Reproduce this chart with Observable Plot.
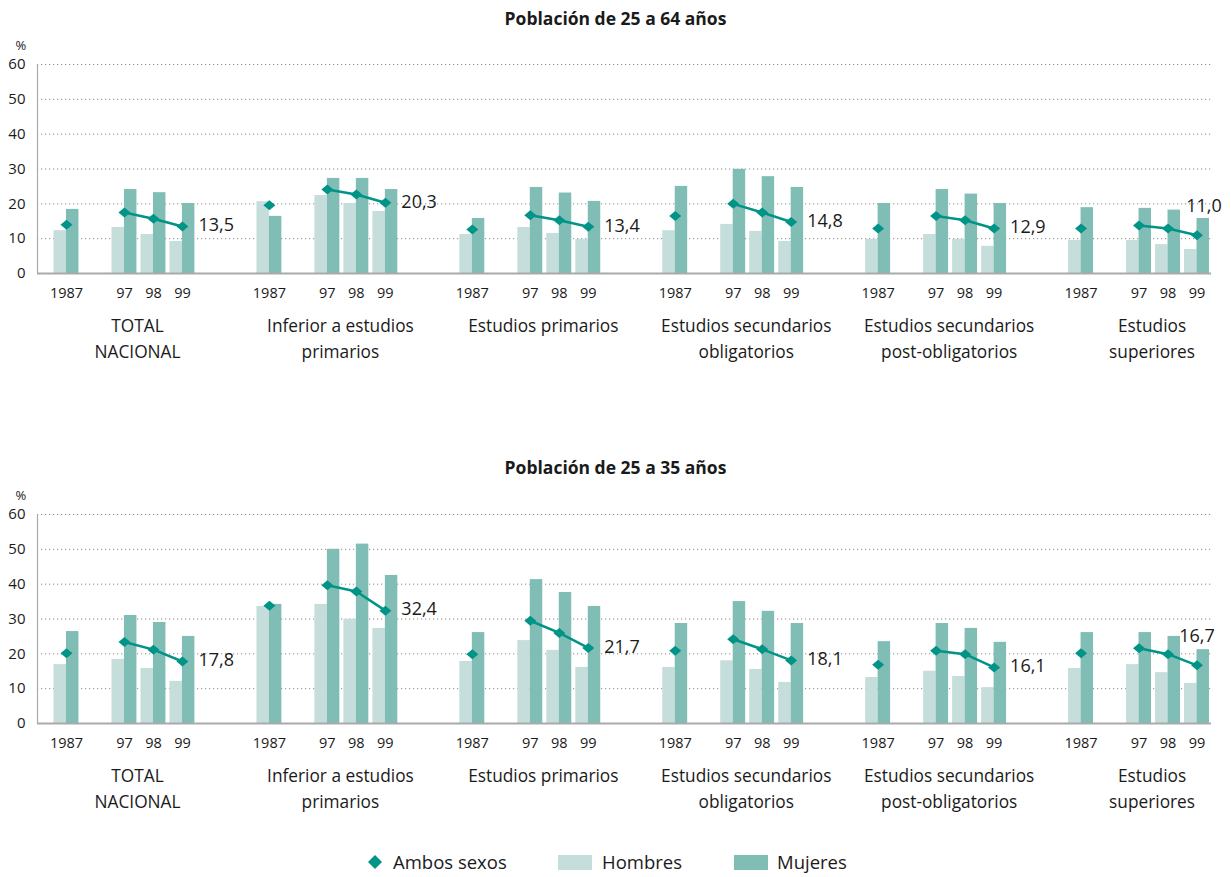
<!DOCTYPE html>
<html><head><meta charset="utf-8">
<script src="https://cdn.jsdelivr.net/npm/d3@7"></script>
<script src="https://cdn.jsdelivr.net/npm/@observablehq/plot@0.6"></script>
<style>
body{margin:0;background:#fff;font-family:"Open Sans",sans-serif;color:#1a1a1a}
#wrap{position:relative;width:1231px;height:877px}
.title{position:absolute;left:0;width:1231px;text-align:center;font-weight:bold;font-size:17.5px}
.panel{position:absolute;left:0}
.lg{position:absolute;top:849px;font-size:18.5px;line-height:26px;white-space:nowrap}
.sw{position:absolute;top:855px;width:34px;height:15px}
</style></head>
<body><div id="wrap">
<div class="title" style="top:6px">Población de 25 a 64 años</div>
<div class="panel" id="p1" style="top:35px"></div>
<div class="title" style="top:455px">Población de 25 a 35 años</div>
<div class="panel" id="p2" style="top:485px"></div>
<svg style="position:absolute;left:365px;top:852px" width="20" height="20"><path d="M10,3 L17,10 L10,17 L3,10Z" fill="#009487"/></svg>
<span class="lg" style="left:393px">Ambos sexos</span>
<span class="sw" style="left:558px;background:#c5dedb"></span>
<span class="lg" style="left:602px">Hombres</span>
<span class="sw" style="left:734px;background:#7fbdb5"></span>
<span class="lg" style="left:777px">Mujeres</span>
</div>
<script>
const groups = ["TOTAL\nNACIONAL", "Inferior a estudios\nprimarios", "Estudios primarios", "Estudios secundarios\nobligatorios", "Estudios secundarios\npost-obligatorios", "Estudios\nsuperiores"];
const years = ["1987", "97", "98", "99"];
const yTicks = [0, 10, 20, 30, 40, 50, 60];

// Población de 25 a 64 años
const hombres64 = [[12.3,13.2,11.2,9.2],[20.6,22.4,20.1,17.8],[11.2,13.2,11.5,9.8],[12.3,14.1,12.1,9.2],[9.8,11.2,9.8,7.8],[9.5,9.5,8.3,6.9]];
const mujeres64 = [[18.4,24.1,23.2,20.1],[16.4,27.3,27.3,24.1],[15.8,24.7,23.1,20.7],[25.0,29.9,27.8,24.7],[20.1,24.1,22.8,20.1],[18.9,18.7,18.2,15.8]];
const ambos64   = [[14.0,17.5,15.7,13.5],[19.6,24.1,22.7,20.3],[12.6,16.7,15.3,13.4],[16.5,20.0,17.5,14.8],[12.9,16.5,15.3,12.9],[12.9,13.8,12.9,11.0]];

// Población de 25 a 35 años
const hombres35 = [[16.9,18.4,15.8,12.1],[33.6,34.2,29.9,27.3],[17.8,23.8,21.0,16.1],[16.1,18.0,15.5,11.8],[13.2,15.0,13.5,10.3],[15.8,16.9,14.6,11.5]];
const mujeres35 = [[26.4,31.0,29.0,25.0],[34.2,50.0,51.5,42.5],[26.1,41.3,37.6,33.6],[28.7,35.0,32.2,28.7],[23.5,28.7,27.3,23.3],[26.1,26.1,25.0,21.2]];
const ambos35   = [[20.2,23.4,21.2,17.8],[33.8,39.7,37.9,32.4],[19.9,29.5,26.0,21.7],[20.9,24.2,21.3,18.1],[16.9,20.9,19.9,16.1],[20.2,21.6,19.9,16.7]];

const C_H = "#c5dedb", C_M = "#7fbdb5", C_A = "#009487";
const yearOffset = [0, 2, 3, 4];
const slotsPerGroup = 7;
const bw = 0.43;

const diamond = {draw(ctx, size) { const w = 6, h = 5; ctx.moveTo(0,-h); ctx.lineTo(w,0); ctx.lineTo(0,h); ctx.lineTo(-w,0); ctx.closePath(); }};

function build(H, M, A, lastAbove) {
  const rows = [];
  groups.forEach((g, gi) => years.forEach((yr, yi) => {
    rows.push({g, gi, yr, yi, s: gi * slotsPerGroup + yearOffset[yi], h: H[gi][yi], m: M[gi][yi], a: A[gi][yi]});
  }));
  const lineRows = rows.filter(d => d.yi > 0);
  const lastRows = rows.filter(d => d.yi === 3);
  const labelsSide = lastRows.filter(d => d.gi < 5);
  const labelsTop = lastRows.filter(d => d.gi === 5);
  const grpRows = groups.map((g, gi) => ({g, s: gi * slotsPerGroup + 2.45}));
  const fmt = v => v.toFixed(1).replace(".", ",");
  return Plot.plot({
    width: 1231, height: 330,
    marginLeft: 37, marginRight: 20, marginTop: 29, marginBottom: 92,
    style: {fontFamily: "Open Sans, sans-serif", fontSize: "14px", color: "#1a1a1a", background: "#fff"},
    x: {type: "linear", domain: [-1, 39.5], axis: null},
    y: {domain: [0, 60], axis: null},
    marks: [
      Plot.ruleY(yTicks.slice(1), {stroke: "#8a8a8a", strokeDasharray: "1.2,2.8", strokeWidth: 1}),
      Plot.ruleX([-1], {y1: 0, y2: 60, stroke: "#aaaaaa", strokeWidth: 1.2}),
      Plot.axisY({ticks: yTicks, tickSize: 0, tickPadding: 12, fontSize: 15, label: null, tickFormat: d => d}),
      Plot.text(["%"], {frameAnchor: "top-left", dx: -22, dy: -24, fontSize: 13}),
      Plot.rect(rows, {x1: d => d.s - bw, x2: d => d.s, y1: 0, y2: "h", fill: C_H}),
      Plot.rect(rows, {x1: d => d.s, x2: d => d.s + bw, y1: 0, y2: "m", fill: C_M}),
      Plot.ruleY([0], {stroke: "#aaaaaa", strokeWidth: 2}),
      Plot.line(lineRows, {x: "s", y: "a", z: "gi", stroke: C_A, strokeWidth: 2.5}),
      Plot.dot(rows, {x: "s", y: "a", symbol: diamond, r: 5, fill: C_A, stroke: "none"}),
      Plot.text(labelsSide, {x: "s", y: "a", text: d => fmt(d.a), textAnchor: "start", dx: 16, dy: -1, fontSize: 18, fill: "#1a1a1a"}),
      Plot.text(labelsTop, {x: "s", y: "a", text: d => fmt(d.a), textAnchor: "middle", dx: lastAbove, dy: -29, fontSize: 18, fill: "#1a1a1a"}),
      Plot.text(rows, {x: "s", y: 0, text: "yr", dy: 20, fontSize: 14.5, fill: "#1a1a1a"}),
      Plot.text(grpRows, {x: "s", y: 0, text: "g", dy: 40, lineAnchor: "top", lineHeight: 1.5, fontSize: 17.3, fill: "#1a1a1a", textAnchor: "middle"}),
    ]
  });
}

document.getElementById("p1").appendChild(build(hombres64, mujeres64, ambos64, 7));
document.getElementById("p2").appendChild(build(hombres35, mujeres35, ambos35, 0));
</script>
</body></html>
